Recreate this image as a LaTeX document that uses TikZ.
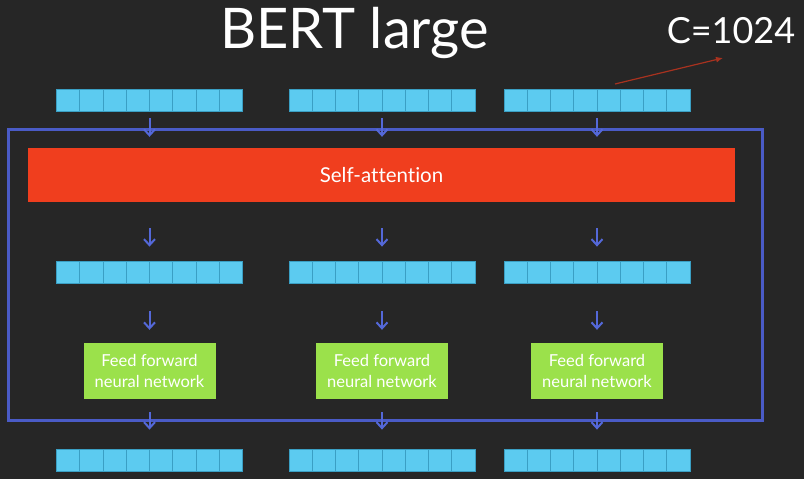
\documentclass[tikz,border=0pt]{standalone}
\usepackage{fontspec}
\setmainfont[Ligatures={NoCommon,NoRequired,NoContextual}]{Lato}
\usetikzlibrary{arrows.meta,calc}
\definecolor{bg}{HTML}{262626}
\definecolor{cellfill}{HTML}{5CCBF0}
\definecolor{celledge}{HTML}{3A9FC4}
\definecolor{framecol}{HTML}{4A5BC6}
\definecolor{arrcol}{HTML}{5468D8}
\definecolor{sacol}{HTML}{F03E1E}
\definecolor{ffcol}{HTML}{9BE14B}
\definecolor{redarr}{HTML}{A8321F}
\tikzset{
  vecbar/.style={draw=celledge, line width=0.8pt, fill=cellfill, minimum width=186pt, minimum height=22pt, inner sep=0pt,
    path picture={\foreach \i in {1,...,7}{\draw[celledge, line width=0.8pt] ($(path picture bounding box.south west)!\i/8!(path picture bounding box.south east)$) -- ($(path picture bounding box.north west)!\i/8!(path picture bounding box.north east)$);}}},
  ffbox/.style={fill=ffcol, minimum width=132pt, minimum height=56pt, inner sep=0pt, text=white, font=\fontsize{16.5}{21.5}\selectfont, align=center},
  flow/.style={draw=arrcol, line width=2pt, -{Straight Barb[length=6pt,width=11pt,line width=2pt]}},
}
\begin{document}
\begin{tikzpicture}[x=1pt,y=-1pt]
\fill[bg] (0,0) rectangle (804,479);
\useasboundingbox (0,0) rectangle (804,479);
% title
\node[text=white, font=\fontsize{56}{62}\selectfont] (title) at (354.5,33) {BERT large};
\node[text=white, font=\fontsize{36}{40}\selectfont] (cval) at (731,31) {C=1024};
% frame
\draw[framecol, line width=3pt] (8.5,129.5) rectangle (762.5,420);
% self-attention
\node[fill=sacol, minimum width=707pt, minimum height=54pt, inner sep=0pt, text=white, font=\fontsize{20.5}{24}\selectfont] (sa) at (381.5,175) {Self-attention};
% vector rows
\foreach \n/\x in {1/149.5, 2/382, 3/597}{
  \node[vecbar] (a\n) at (\x,100) {};
  \node[vecbar] (b\n) at (\x,272) {};
  \node[ffbox] (f\n) at (\x,371) {Feed forward\\neural network};
  \node[vecbar] (c\n) at (\x,460) {};
}
\foreach \n in {1,2,3}{
  \draw[flow, shorten <=7pt, shorten >=11pt] (a\n.south) -- (a\n.south |- sa.north);
  \draw[flow, shorten <=26pt, shorten >=14pt] (b\n.north |- sa.south) -- (b\n.north);
  \draw[flow, shorten <=28pt, shorten >=13pt] (b\n.south) -- (f\n.north);
  \draw[flow, shorten <=13pt, shorten >=19pt] (f\n.south) -- (c\n.north);
}
\coordinate (rs) at (615,84);
\coordinate (re) at (723,58);
\draw[redarr, line width=1.2pt, -{Latex[length=7pt,width=6pt]}] (rs) -- (re);
\end{tikzpicture}
\end{document}
